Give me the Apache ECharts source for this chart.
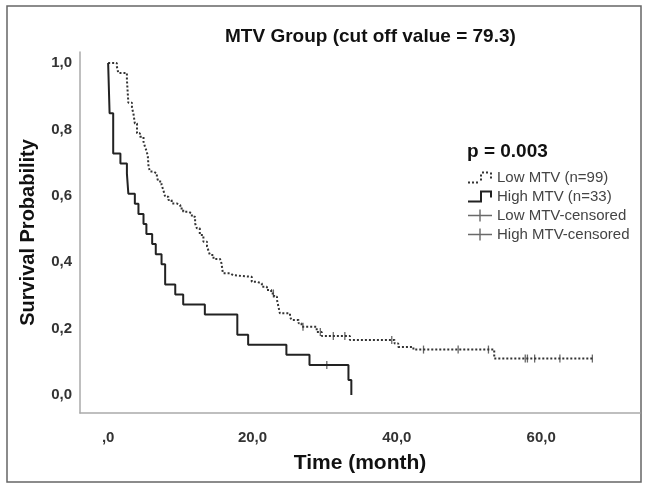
<!DOCTYPE html>
<html>
<head>
<meta charset="utf-8">
<script src="https://cdn.jsdelivr.net/npm/echarts@6/dist/echarts.min.js"></script>
<style>
html, body { margin: 0; padding: 0; background: #fff; }
#main { width: 645px; height: 485px; }
</style>
</head>
<body>
<div id="main"></div>
<script>
// 生存曲线数据 (时间: 月, 生存率)
var lowTime = [0, 1.2, 1.4, 2.6, 2.8, 3.3, 3.5, 3.7, 4.0, 4.4, 4.9, 5.1, 5.35, 5.5, 5.6, 5.8, 6.3, 6.75, 6.95, 7.4, 7.65, 7.9, 8.35, 8.8, 9.5, 10.0, 10.4, 11.1, 11.6, 12.05, 12.3, 12.7, 13.2, 13.7, 13.9, 14.1, 14.6, 15.5, 15.7, 15.9, 16.9, 17.3, 19.9, 20.6, 21.3, 22.0, 22.6, 23.0, 23.4, 23.6, 23.8, 25.2, 25.4, 26.4, 26.8, 28.9, 29.6, 33.5, 39.7, 40.2, 42.3, 53.5, 67.2];
var lowSurv = [1.0, 0.99, 0.97, 0.95, 0.88, 0.865, 0.848, 0.818, 0.788, 0.778, 0.763, 0.748, 0.733, 0.718, 0.688, 0.673, 0.667, 0.657, 0.643, 0.633, 0.617, 0.597, 0.587, 0.577, 0.572, 0.562, 0.552, 0.547, 0.537, 0.517, 0.502, 0.482, 0.462, 0.447, 0.435, 0.422, 0.41, 0.405, 0.397, 0.367, 0.361, 0.356, 0.341, 0.336, 0.326, 0.316, 0.306, 0.296, 0.286, 0.266, 0.246, 0.236, 0.226, 0.216, 0.206, 0.19, 0.178, 0.166, 0.155, 0.145, 0.137, 0.11, 0.11];
var highTime = [0, 0.2, 0.7, 1.7, 2.6, 2.8, 3.7, 4.2, 4.9, 5.3, 6.1, 6.6, 7.4, 7.9, 9.3, 10.4, 13.4, 17.9, 19.4, 24.7, 27.9, 33.3, 33.7];
var highSurv = [1.0, 0.8485, 0.7273, 0.697, 0.6667, 0.6061, 0.5758, 0.5455, 0.5152, 0.4848, 0.4545, 0.4242, 0.3939, 0.3333, 0.303, 0.2727, 0.2424, 0.1818, 0.1515, 0.1212, 0.0909, 0.0455, 0];
var lowCensor = [22.9, 27.0, 29.4, 31.2, 32.8, 39.3, 43.7, 48.5, 52.7, 57.8, 58.1, 59.1, 62.6, 67.1];
var highCensor = [30.3];
var xTicks = [0, 20, 40, 60];
var yTicks = [0, 0.2, 0.4, 0.6, 0.8, 1.0];

function pairs(ts, ss) {
    return ts.map(function (t, i) { return [t, ss[i]]; });
}
function survAt(ts, ss, t) {
    var s = ss[0];
    for (var i = 0; i < ts.length; i++) {
        if (ts[i] <= t) s = ss[i];
    }
    return s;
}
function comma(v, axis) {
    if (v === 0 && axis === 'x') return ',0';
    return v.toFixed(1).replace('.', ',');
}

var lowIcon = 'path://M0,10h2v2h-2z M4,10h2v2h-2z M8,10h2v2h-2z M12,7h2v2h-2z M12,3h2v2h-2z M14,0h2v2h-2z M18,0h2v2h-2z M22,1h2v2h-2z M22,5h2v2h-2z';
var highIcon = 'path://M0,10H12V0H24V7H22V2H14V12H0Z';
var censIcon = 'path://M0,5.3h24v1.4h-24z M11.3,0h1.4v12h-1.4z';
var font = 'Liberation Sans, Arial';

var myChart = echarts.init(document.getElementById('main'));

var option = {
    backgroundColor: '#fff',
    animation: false,
    title: {
        text: 'MTV Group (cut off value = 79.3)',
        left: 220,
        top: 22,
        textStyle: { fontFamily: font, fontSize: 19, fontWeight: 'bold', color: '#111' }
    },
    legend: {
        orient: 'vertical',
        left: 463,
        top: 165,
        itemWidth: 24,
        itemHeight: 12,
        itemGap: 4,
        textStyle: { fontFamily: font, fontSize: 15, color: '#444', lineHeight: 15 },
        data: [
            { name: 'Low MTV (n=99)', icon: lowIcon },
            { name: 'High MTV (n=33)', icon: highIcon },
            { name: 'Low MTV-censored', icon: censIcon },
            { name: 'High MTV-censored', icon: censIcon }
        ]
    },
    graphic: [
        {
            type: 'rect',
            shape: { x: 7, y: 6, width: 634, height: 476 },
            style: { fill: 'none', stroke: '#666', lineWidth: 1.5 },
            silent: true
        },
        {
            type: 'text',
            left: 467,
            top: 142,
            style: { text: 'p = 0.003', fontFamily: font, fontSize: 19, fontWeight: 'bold', fill: '#111' }
        }
    ],
    grid: { left: 80, right: 5, top: 52, bottom: 72 },
    xAxis: {
        type: 'value',
        min: -3.9,
        max: 73.7,
        name: 'Time (month)',
        nameLocation: 'middle',
        nameGap: 40,
        nameTextStyle: { fontFamily: font, fontSize: 21, fontWeight: 'bold', color: '#111' },
        splitLine: { show: false },
        axisTick: { show: false },
        axisLine: { onZero: false, lineStyle: { color: '#aaa', width: 1.5 } },
        axisLabel: {
            customValues: xTicks,
            margin: 17,
            fontFamily: font,
            fontSize: 15,
            fontWeight: 'bold',
            color: '#333',
            formatter: function (v) { return comma(v, 'x'); }
        }
    },
    yAxis: {
        type: 'value',
        min: -0.054,
        max: 1.033,
        name: 'Survival Probability',
        nameLocation: 'middle',
        nameGap: 42,
        nameTextStyle: { fontFamily: font, fontSize: 20, fontWeight: 'bold', color: '#111' },
        splitLine: { show: false },
        axisTick: { show: false },
        axisLine: { show: true, onZero: false, lineStyle: { color: '#aaa', width: 1.5 } },
        axisLabel: {
            customValues: yTicks,
            margin: 8,
            fontFamily: font,
            fontSize: 15,
            fontWeight: 'bold',
            color: '#333',
            formatter: function (v) { return comma(v, 'y'); }
        }
    },
    series: [
        {
            name: 'Low MTV (n=99)',
            type: 'line',
            step: 'end',
            showSymbol: false,
            itemStyle: { color: '#333' },
            lineStyle: { color: '#333', width: 2, type: [2, 2] },
            data: pairs(lowTime, lowSurv)
        },
        {
            name: 'High MTV (n=33)',
            type: 'line',
            step: 'end',
            showSymbol: false,
            itemStyle: { color: '#222' },
            lineStyle: { color: '#222', width: 2 },
            data: pairs(highTime, highSurv)
        },
        {
            name: 'Low MTV-censored',
            type: 'scatter',
            symbol: 'rect',
            symbolSize: [1.3, 8],
            itemStyle: { color: '#444' },
            data: lowCensor.map(function (t) { return [t, survAt(lowTime, lowSurv, t)]; })
        },
        {
            name: 'High MTV-censored',
            type: 'scatter',
            symbol: 'rect',
            symbolSize: [1.3, 8],
            itemStyle: { color: '#444' },
            data: highCensor.map(function (t) { return [t, survAt(highTime, highSurv, t)]; })
        }
    ]
};

myChart.setOption(option);
</script>
</body>
</html>
